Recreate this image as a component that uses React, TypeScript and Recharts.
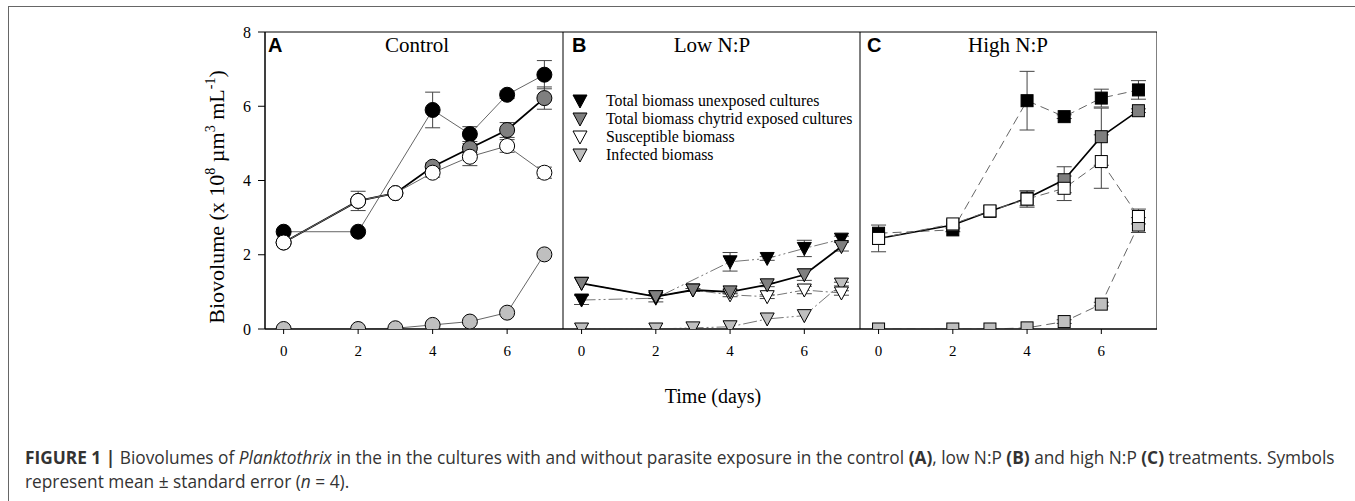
import React from "react";
import { LineChart, Line, XAxis, YAxis, ErrorBar, ReferenceArea, Legend } from "recharts";

// sampling days (unexposed cultures were not sampled on day 3)
const days = [0, 2, 3, 4, 5, 6, 7];
const dayTicks = [0, 2, 4, 6];
const bioTicks = [0, 2, 4, 6, 8];

// A - Control
const ctlUnexposed = [2.62, 2.62, null, 5.9, 5.25, 6.31, 6.85];
const ctlUnexposedErr = [0, 0, null, 0.48, 0.2, 0.1, 0.38];
const ctlExposed = [2.33, 3.45, 3.66, 4.37, 4.87, 5.36, 6.22];
const ctlExposedErr = [0, 0, 0, 0.1, 0.12, 0.2, 0.3];
const ctlSusceptible = [2.33, 3.45, 3.66, 4.21, 4.64, 4.93, 4.21];
const ctlSusceptibleErr = [0, 0.26, 0, 0.12, 0.24, 0.17, 0.15];
const ctlInfected = [0, 0, 0.02, 0.11, 0.2, 0.44, 2.01];
const ctlInfectedErr = [0, 0, 0, 0, 0, 0, 0];

// B - Low N:P
const lowUnexposed = [0.78, 0.83, null, 1.81, 1.9, 2.17, 2.42];
const lowUnexposedErr = [0.12, 0.1, null, 0.25, 0.05, 0.22, 0.08];
const lowExposed = [1.23, 0.87, 1.05, 1.0, 1.19, 1.46, 2.22];
const lowExposedErr = [0, 0.05, 0.04, 0.05, 0.05, 0.15, 0.12];
const lowSusceptible = [1.23, 0.87, 1.05, 0.92, 0.87, 1.05, 0.97];
const lowSusceptibleErr = [0, 0, 0, 0.05, 0.05, 0.1, 0.06];
const lowInfected = [0, 0, 0.03, 0.06, 0.27, 0.36, 1.21];
const lowInfectedErr = [0, 0, 0, 0, 0, 0, 0.05];

// C - High N:P
const highUnexposed = [2.58, 2.67, null, 6.15, 5.72, 6.22, 6.44];
const highUnexposedErr = [0, 0.05, null, 0.79, 0.05, 0.24, 0.25];
const highExposed = [2.44, 2.8, 3.17, 3.52, 4.02, 5.18, 5.88];
const highExposedErr = [0, 0, 0, 0.2, 0.35, 0.77, 0.05];
const highSusceptible = [2.44, 2.83, 3.18, 3.5, 3.79, 4.51, 3.03];
const highSusceptibleErr = [0.36, 0, 0, 0.22, 0.33, 0.72, 0.2];
const highInfected = [0, 0, 0, 0.03, 0.2, 0.67, 2.8];
const highInfectedErr = [0, 0, 0, 0, 0.05, 0.05, 0.2];

const legendNames = [
  "Total biomass unexposed cultures",
  "Total biomass chytrid exposed cultures",
  "Susceptible biomass",
  "Infected biomass",
];

const SERIF = "'Liberation Serif', 'Times New Roman', serif";
const SANS = "'Liberation Sans', Arial, sans-serif";
const FILLS: Record<string, string> = { u: "#000", e: "#7f7f7f", s: "#fff", i: "#bfbfbf" };

function rows(u: any[], uE: any[], e: any[], eE: any[], s: any[], sE: any[], i: any[], iE: any[]) {
  return days.map((d, k) => ({
    day: d,
    u: u[k], uE: uE[k],
    e: e[k], eE: eE[k],
    s: s[k], sE: sE[k],
    i: i[k], iE: iE[k],
  }));
}

const ctlData = rows(ctlUnexposed, ctlUnexposedErr, ctlExposed, ctlExposedErr, ctlSusceptible, ctlSusceptibleErr, ctlInfected, ctlInfectedErr);
const lowData = rows(lowUnexposed, lowUnexposedErr, lowExposed, lowExposedErr, lowSusceptible, lowSusceptibleErr, lowInfected, lowInfectedErr);
const highData = rows(highUnexposed, highUnexposedErr, highExposed, highExposedErr, highSusceptible, highSusceptibleErr, highInfected, highInfectedErr);

function Marker({ shape, cx, cy, fill }: { shape: string; cx: number; cy: number; fill: string }) {
  if (shape === "circle") return <circle cx={cx} cy={cy} r={7.5} fill={fill} stroke="#000" strokeWidth={1} />;
  if (shape === "square") return <rect x={cx - 6} y={cy - 6} width={12} height={12} fill={fill} stroke="#000" strokeWidth={1} />;
  return (
    <polygon
      points={`${cx - 7},${cy - 6} ${cx + 7},${cy - 6} ${cx},${cy + 7}`}
      fill={fill}
      stroke="#000"
      strokeWidth={1}
    />
  );
}

const dotFor = (shape: string, fill: string) => (p: any) => {
  const key = `d-${p.index}`;
  if (p.cx == null || p.cy == null || p.value == null || Number.isNaN(p.cy)) return <g key={key} />;
  return <Marker key={key} shape={shape} cx={p.cx} cy={p.cy} fill={fill} />;
};

type LineStyle = { stroke: string; width: number; dash?: string };

function Panel(props: {
  data: any[];
  width: number;
  shape: string;
  order: string[];
  styles: Record<string, LineStyle>;
  showY?: boolean;
  legend?: boolean;
}) {
  const { data, width, shape, order, styles, showY, legend } = props;
  const yW = showY ? 75 : 0;
  return (
    <LineChart width={width + yW} height={369} data={data} margin={{ top: 32, right: 0, bottom: 0, left: 0 }}>
      <XAxis
        dataKey="day"
        type="number"
        domain={[-0.5, 7.5]}
        ticks={dayTicks}
        allowDataOverflow
        height={40}
        tickSize={5}
        tickMargin={11}
        axisLine={{ stroke: "#000" }}
        tickLine={{ stroke: "#000" }}
        tick={{ fontSize: 15, fill: "#000", fontFamily: SERIF }}
      />
      <YAxis
        type="number"
        domain={[0, 8]}
        ticks={bioTicks}
        allowDataOverflow
        hide={!showY}
        width={75}
        tickSize={7}
        tickMargin={7}
        axisLine={{ stroke: "#000" }}
        tickLine={{ stroke: "#000" }}
        tick={{ fontSize: 16, fill: "#000", fontFamily: SERIF }}
      />
      <ReferenceArea x1={-0.5} x2={7.5} y1={0} y2={8} fill="none" stroke="#000" strokeWidth={1} ifOverflow="visible" />
      {order.map((k) => (
        <Line
          key={k}
          dataKey={k}
          type="linear"
          stroke={styles[k].stroke}
          strokeWidth={styles[k].width}
          strokeDasharray={styles[k].dash}
          connectNulls
          isAnimationActive={false}
          activeDot={false}
          dot={dotFor(shape, FILLS[k])}
        >
          <ErrorBar dataKey={`${k}E`} width={7.5} stroke="#444" strokeWidth={1} direction="y" isAnimationActive={false} />
        </Line>
      ))}
      {legend && (
        <Legend
          layout="vertical"
          align="center"
          verticalAlign="middle"
          wrapperStyle={{ left: 0, top: 90, width: 297, height: 76 }}
          content={() => (
            <svg width={297} height={76}>
              {legendNames.map((n, k) => (
                <g key={n}>
                  <Marker shape="triangle" cx={17} cy={11 + k * 18} fill={FILLS[["u", "e", "s", "i"][k]]} />
                  <text x={43} y={16 + k * 18} fontSize={15.8} fontFamily={SERIF} fill="#000">
                    {n}
                  </text>
                </g>
              ))}
            </svg>
          )}
        />
      )}
    </LineChart>
  );
}

const ctlStyles = {
  u: { stroke: "#666", width: 1 },
  e: { stroke: "#000", width: 1.8 },
  s: { stroke: "#666", width: 1 },
  i: { stroke: "#666", width: 1 },
};
const lowStyles = {
  u: { stroke: "#777", width: 1, dash: "14 3 2 3 2 3" },
  e: { stroke: "#000", width: 1.8 },
  s: { stroke: "#777", width: 1, dash: "10 3 2 3" },
  i: { stroke: "#777", width: 1, dash: "14 3 2 3 2 3" },
};
const highStyles = {
  u: { stroke: "#666", width: 1, dash: "9 5" },
  e: { stroke: "#000", width: 1.6 },
  s: { stroke: "#666", width: 1, dash: "9 5" },
  i: { stroke: "#666", width: 1, dash: "9 5" },
};

const captionStyle: React.CSSProperties = {
  position: "absolute",
  left: 25,
  whiteSpace: "nowrap",
  fontFamily: "'Open Sans', sans-serif",
  fontSize: 17.3,
  lineHeight: "24px",
  color: "#333",
};

export default function App() {
  return (
    <div style={{ position: "fixed", left: 0, top: 0, width: 1355, height: 501, background: "#fff", overflow: "hidden" }}>
      <div style={{ position: "absolute", left: 8, top: 6, width: 1400, height: 600, borderTop: "1px solid #666", borderLeft: "1px solid #666" }} />

      <div style={{ position: "absolute", left: 190, top: 0 }}>
        <Panel data={ctlData} width={298} shape="circle" order={["u", "e", "i", "s"]} styles={ctlStyles} showY />
      </div>
      <div style={{ position: "absolute", left: 563, top: 0 }}>
        <Panel data={lowData} width={297} shape="triangle" order={["i", "s", "u", "e"]} styles={lowStyles} legend />
      </div>
      <div style={{ position: "absolute", left: 860, top: 0 }}>
        <Panel data={highData} width={297} shape="square" order={["u", "e", "i", "s"]} styles={highStyles} />
      </div>

      <svg width={1355} height={501} style={{ position: "absolute", left: 0, top: 0, pointerEvents: "none" }}>
        <text x={268} y={52} fontFamily={SANS} fontWeight="bold" fontSize={20}>A</text>
        <text x={417} y={52} fontFamily={SERIF} fontSize={21} textAnchor="middle">Control</text>
        <text x={572} y={52} fontFamily={SANS} fontWeight="bold" fontSize={20}>B</text>
        <text x={712} y={52} fontFamily={SERIF} fontSize={21} textAnchor="middle">Low N:P</text>
        <text x={867} y={52} fontFamily={SANS} fontWeight="bold" fontSize={20}>C</text>
        <text x={1008} y={52} fontFamily={SERIF} fontSize={21} textAnchor="middle">High N:P</text>
        <text x={224} y={197} transform="rotate(-90 224 197)" fontFamily={SERIF} fontSize={22} textAnchor="middle">
          Biovolume (x 10<tspan dy={-9} fontSize={14}>8</tspan>
          <tspan dy={9}> µm</tspan>
          <tspan dy={-9} fontSize={14}>3</tspan>
          <tspan dy={9}> mL</tspan>
          <tspan dy={-9} fontSize={14}>-1</tspan>
          <tspan dy={9}>)</tspan>
        </text>
        <text x={713} y={403} fontFamily={SERIF} fontSize={20} textAnchor="middle">Time (days)</text>
      </svg>

      <div style={{ ...captionStyle, top: 446 }}>
        <b>FIGURE 1 |</b> Biovolumes of <i>Planktothrix</i> in the in the cultures with and without parasite exposure in the control <b>(A)</b>, low N:P <b>(B)</b> and high N:P <b>(C)</b> treatments. Symbols
      </div>
      <div style={{ ...captionStyle, top: 470 }}>
        represent mean ± standard error (<i>n</i> = 4).
      </div>
    </div>
  );
}
